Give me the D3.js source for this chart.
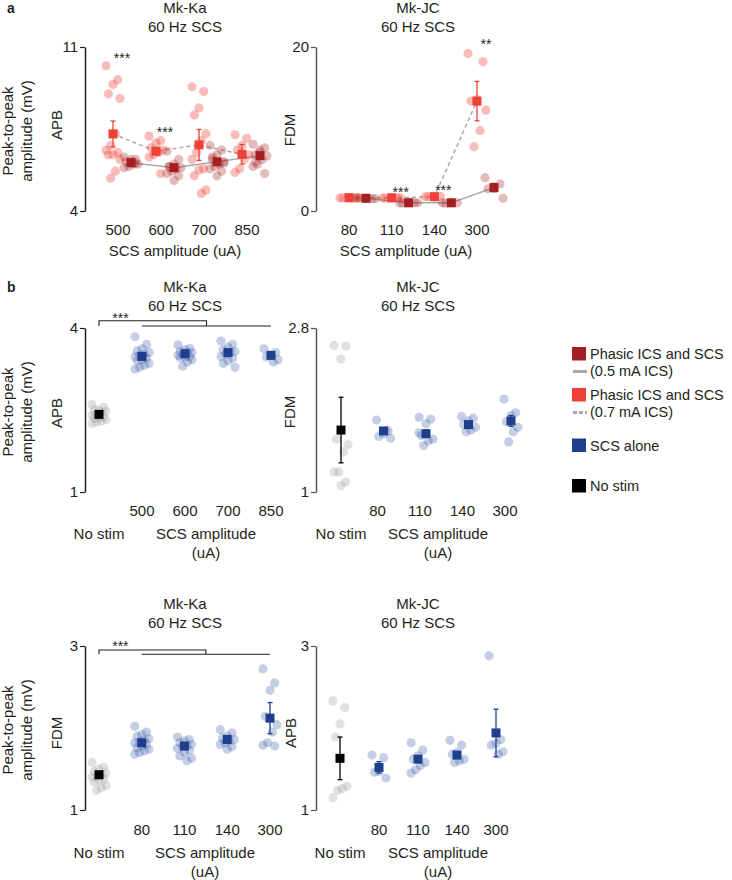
<!DOCTYPE html>
<html lang="en">
<head>
<meta charset="UTF-8">
<title>SCS amplitude</title>
<script src="https://cdn.jsdelivr.net/npm/d3@7"></script>
<style>
  body { margin: 0; background: #fff; }
  text { font-family: "Liberation Sans", Arial, sans-serif; fill: #231f20; }
</style>
</head>
<body>
<svg id="chart" width="732" height="880"></svg>
<script>
// ---- data ----
var kaAmps = ["500", "600", "700", "850"];
var jcAmps = ["80", "110", "140", "300"];

// panel a, Mk-Ka APB, 0.7 mA ICS (light red)
var aKaHighPts = [
  [10.2, 9.6, 9.4, 9.0, 8.8, 7.3, 6.8, 6.6, 6.5, 6.4, 6.4, 6.2, 5.7, 5.4],
  [7.2, 7.0, 6.9, 6.7, 6.6, 6.5, 6.4, 6.3, 5.6],
  [9.3, 9.1, 8.4, 8.1, 7.3, 7.0, 6.5, 6.2, 5.8, 5.75, 5.5, 4.9, 4.75],
  [7.25, 7.1, 6.8, 6.6, 6.4, 6.2, 5.8, 5.65]
];
var aKaHighMean = [7.29, 6.55, 6.82, 6.42];
var aKaHighSem = [0.55, 0.12, 0.66, 0.42];
// panel a, Mk-Ka APB, 0.5 mA ICS (dark red)
var aKaLowPts = [
  [6.3, 6.2, 6.1, 6.1, 6.0, 6.0, 5.9, 5.85, 6.05, 6.2],
  [6.55, 6.2, 6.0, 5.9, 5.85, 5.8, 5.7, 5.6, 5.5, 5.3, 5.9],
  [6.8, 6.6, 6.4, 6.2, 6.1, 6.0, 5.9, 5.8, 5.7, 5.5, 6.3, 6.05],
  [6.85, 6.7, 6.5, 6.4, 6.35, 6.2, 6.0, 5.9, 5.6, 6.6, 6.1]
];
var aKaLowMean = [6.06, 5.85, 6.1, 6.36];
var aKaLowSem = [0.05, 0.08, 0.1, 0.1];
var aKaStars = [["500", 10.3, "***"], ["600", 7.16, "***"]];

// panel a, Mk-JC FDM
var aJcHighPts = [
  [1.6, 1.6, 1.65, 1.6, 1.62, 1.58],
  [1.6, 1.6, 1.62, 1.58, 1.6],
  [1.75, 1.8, 1.7, 1.75],
  [19.2, 18.2, 13.6, 13.4, 12.3, 9.8, 7.85]
];
var aJcHighMean = [1.62, 1.6, 1.75, 13.4];
var aJcHighSem = [0.05, 0.05, 0.05, 2.4];
var aJcLowPts = [
  [1.55, 1.5, 1.55, 1.6, 1.5],
  [1.0, 1.0, 1.05, 0.95, 1.0],
  [1.0, 1.0, 1.05, 0.95],
  [4.06, 3.3, 2.9, 2.7, 1.55]
];
var aJcLowMean = [1.55, 1.0, 1.0, 2.85];
var aJcLowSem = [0.05, 0.05, 0.05, 0.5];
var aJcStars = [["110", 1.65, "***"], ["140", 2.0, "***"], ["300", 19.7, "**"]];

// panel b, Mk-Ka APB
var bKaApbNoStim = [2.6, 2.55, 2.5, 2.5, 2.48, 2.45, 2.42, 2.4, 2.38, 2.36, 2.35, 2.32, 2.3, 2.28, 2.25];
var bKaApbPts = [
  [3.84, 3.7, 3.62, 3.58, 3.55, 3.52, 3.5, 3.47, 3.45, 3.42, 3.4, 3.35, 3.32, 3.28, 3.25],
  [3.69, 3.63, 3.6, 3.57, 3.55, 3.55, 3.52, 3.5, 3.48, 3.47, 3.45, 3.42, 3.38, 3.3],
  [3.76, 3.7, 3.65, 3.6, 3.57, 3.55, 3.52, 3.48, 3.45, 3.4, 3.35, 3.28],
  [3.62, 3.55, 3.5, 3.47, 3.42, 3.38]
];
var bKaApbMean = [3.48, 3.53, 3.55, 3.5];
var bKaApbNoStimMean = 2.42;

// panel b, Mk-JC FDM
var bJcFdmNoStim = [2.61, 2.6, 2.46, 1.58, 1.52, 1.44, 1.22, 1.22, 1.11, 1.07];
var bJcFdmPts = [
  [1.79, 1.67, 1.64, 1.61, 1.59, 1.67],
  [1.82, 1.8, 1.75, 1.62, 1.58, 1.56, 1.51, 1.65],
  [1.83, 1.81, 1.78, 1.74, 1.71, 1.68, 1.66],
  [2.02, 1.87, 1.84, 1.77, 1.71, 1.66, 1.55]
];
var bJcFdmMean = [1.67, 1.64, 1.74, 1.78];
var bJcFdmSem = [0.03, 0.04, 0.03, 0.06];
var bJcFdmNoStimMean = 1.68;
var bJcFdmNoStimSem = 0.36;

// panel b, Mk-Ka FDM
var bKaFdmNoStim = [1.58, 1.52, 1.5, 1.47, 1.45, 1.43, 1.41, 1.4, 1.38, 1.36, 1.34, 1.3, 1.27, 1.24];
var bKaFdmPts = [
  [2.02, 1.95, 1.92, 1.9, 1.87, 1.85, 1.83, 1.82, 1.8, 1.78, 1.76, 1.74, 1.72, 1.7, 1.68],
  [1.89, 1.86, 1.84, 1.82, 1.8, 1.78, 1.77, 1.75, 1.73, 1.7, 1.66, 1.63, 1.6],
  [1.98, 1.94, 1.9, 1.88, 1.86, 1.84, 1.82, 1.8, 1.77, 1.74],
  [2.72, 2.55, 2.46, 2.14, 2.04, 1.95, 1.82, 1.79, 1.78]
];
var bKaFdmMean = [1.82, 1.78, 1.86, 2.12];
var bKaFdmSem = [0.02, 0.02, 0.02, 0.19];
var bKaFdmNoStimMean = 1.43;

// panel b, Mk-JC APB
var bJcApbNoStim = [2.33, 2.25, 2.05, 1.89, 1.29, 1.26, 1.24, 1.15];
var bJcApbPts = [
  [1.67, 1.64, 1.47, 1.46, 1.39],
  [1.82, 1.73, 1.66, 1.62, 1.58, 1.54, 1.49, 1.45],
  [1.85, 1.79, 1.7, 1.68, 1.62, 1.6, 1.58],
  [2.88, 1.86, 1.81, 1.79, 1.71, 1.68]
];
var bJcApbMean = [1.52, 1.62, 1.67, 1.94];
var bJcApbSem = [0.07, 0.04, 0.03, 0.29];
var bJcApbNoStimMean = 1.63;
var bJcApbNoStimSem = 0.26;

var legendLabels = [["Phasic ICS and SCS", "(0.5 mA ICS)"], ["Phasic ICS and SCS", "(0.7 mA ICS)"], ["SCS alone"], ["No stim"]];

// ---- colours ----
var darkRed = "#a41e22", lightRed = "#ee4036", blue = "#1f3f8e", black = "#000";

var svg = d3.select("#chart");

function jit(i, spread) {
  return (((i * 5) % 7) - 3) * spread / 3;
}

function drawSeries(g, x, y, s) {
  s.cats.forEach(function (c, ci) {
    var cx = x(c) + (s.offset || 0);
    g.selectAll(null).data(s.pts[ci]).enter().append("circle")
      .attr("cx", function (d, i) { return cx + jit(i, s.spread); })
      .attr("cy", function (d) { return y(d); })
      .attr("r", 4.6)
      .attr("fill", s.ptColor)
      .attr("fill-opacity", s.ptOpacity);
  });
}

function drawMeans(g, x, y, s) {
  s.cats.forEach(function (c, ci) {
    var cx = x(c) + (s.offset || 0);
    var m = s.mean[ci], e = s.sem ? s.sem[ci] : 0;
    if (e > 0) {
      g.append("line").attr("x1", cx).attr("x2", cx)
        .attr("y1", y(m - e)).attr("y2", y(m + e))
        .attr("stroke", s.color).attr("stroke-width", 1.3);
      [m - e, m + e].forEach(function (v) {
        g.append("line").attr("x1", cx - 2.5).attr("x2", cx + 2.5)
          .attr("y1", y(v)).attr("y2", y(v))
          .attr("stroke", s.color).attr("stroke-width", 1.3);
      });
    }
    g.append("rect").attr("x", cx - 4.5).attr("y", y(m) - 4.5)
      .attr("width", 9).attr("height", 9).attr("fill", s.color);
  });
}

function drawPanel(p) {
  var g = svg.append("g");
  var y = d3.scaleLinear().domain(p.yDomain).range([p.bottom, p.top]);
  var x = d3.scalePoint().domain(p.domain).range(p.xRange);

  var ax = g.append("g").attr("transform", "translate(" + p.axisX + ",0)")
    .call(d3.axisLeft(y).tickValues(p.yDomain).tickSize(5).tickSizeOuter(0).tickPadding(2)
      .tickFormat(function (d) { return d; }));
  ax.select(".domain").attr("stroke", p.axisColor).attr("stroke-width", 1.5);
  ax.selectAll(".tick line").attr("stroke", p.axisColor).attr("stroke-width", 1.2);
  ax.selectAll(".tick text").attr("font-size", 15).attr("fill", "#231f20")
    .attr("font-family", "Liberation Sans, Arial, sans-serif");

  // titles
  g.append("text").attr("x", p.titleX).attr("y", p.titleY).attr("text-anchor", "middle")
    .attr("font-size", 15).text(p.monkey);
  g.append("text").attr("x", p.titleX).attr("y", p.titleY + 19).attr("text-anchor", "middle")
    .attr("font-size", 15).text("60 Hz SCS");

  // muscle label
  g.append("text").attr("transform", "translate(" + p.muscleX + "," + p.labelMidY + ") rotate(-90)")
    .attr("text-anchor", "middle").attr("font-size", 15).text(p.muscle);

  // connecting lines between means
  (p.lines || []).forEach(function (s) {
    var line = d3.line()
      .x(function (d, i) { return x(s.cats[i]) + s.offset; })
      .y(function (d) { return y(d); });
    g.append("path").attr("d", line(s.mean)).attr("fill", "none")
      .attr("stroke", "#a7a9ac").attr("stroke-width", 1.5)
      .attr("stroke-dasharray", s.dash ? "4,3" : null);
  });

  p.series.forEach(function (s) { drawSeries(g, x, y, s); });
  p.series.forEach(function (s) { drawMeans(g, x, y, s); });

  // x tick labels
  g.selectAll(null).data(p.ticks).enter().append("text")
    .attr("x", function (d) { return x(d) + (p.labelShift || 0); })
    .attr("y", p.tickY).attr("text-anchor", "middle").attr("font-size", 15)
    .text(function (d) { return d; });

  if (p.noStim) {
    g.append("text").attr("x", x("No stim")).attr("y", p.tickY + 23)
      .attr("text-anchor", "middle").attr("font-size", 15).text("No stim");
    g.append("text").attr("x", p.xlabelX).attr("y", p.tickY + 23)
      .attr("text-anchor", "middle").attr("font-size", 15).text("SCS amplitude");
    g.append("text").attr("x", p.xlabelX).attr("y", p.tickY + 42)
      .attr("text-anchor", "middle").attr("font-size", 15).text("(uA)");
  } else {
    g.append("text").attr("x", p.xlabelX).attr("y", p.tickY + 21)
      .attr("text-anchor", "middle").attr("font-size", 15).text("SCS amplitude (uA)");
  }

  // significance
  (p.stars || []).forEach(function (st) {
    g.append("text").attr("x", x(st[0])).attr("y", y(st[1]))
      .attr("text-anchor", "middle").attr("font-size", 14).text(st[2]);
  });

  if (p.bracket) {
    var b = p.bracket, c = p.ticks;
    var x0 = x("No stim"), xm = (x(c[1]) + x(c[2])) / 2;
    g.append("path")
      .attr("d", "M" + x0 + "," + y(b[1]) + "V" + y(b[0]) + "H" + xm + "V" + y(b[1]) +
        "M" + x(c[0]) + "," + y(b[1]) + "H" + x(c[c.length - 1]))
      .attr("fill", "none").attr("stroke", "#231f20").attr("stroke-width", 1.1);
    g.append("text").attr("x", (x0 + x(c[0])) / 2).attr("y", y(b[2]))
      .attr("text-anchor", "middle").attr("font-size", 14).text("***");
  }
}

function ylabel(midY) {
  svg.append("text").attr("transform", "translate(13," + midY + ") rotate(-90)")
    .attr("text-anchor", "middle").attr("font-size", 15).text("Peak-to-peak");
  svg.append("text").attr("transform", "translate(32," + midY + ") rotate(-90)")
    .attr("text-anchor", "middle").attr("font-size", 15).text("amplitude (mV)");
}

// ---- panel a ----
svg.append("text").attr("x", 7).attr("y", 13).attr("font-size", 14).attr("font-weight", "bold").text("a");
ylabel(131);
drawPanel({
  monkey: "Mk-Ka", muscle: "APB", yDomain: [4, 11], top: 47, bottom: 211,
  domain: kaAmps, ticks: kaAmps, xRange: [122, 251], axisX: 85, axisColor: "#231f20",
  titleX: 185, titleY: 13, muscleX: 62, labelMidY: 125, tickY: 235, labelShift: -4, xlabelX: 175,
  lines: [
    { cats: kaAmps, mean: aKaHighMean, offset: -9, dash: true },
    { cats: kaAmps, mean: aKaLowMean, offset: 9, dash: false }
  ],
  series: [
    { cats: kaAmps, pts: aKaHighPts, mean: aKaHighMean, sem: aKaHighSem, color: lightRed, ptColor: lightRed, ptOpacity: 0.35, offset: -9, spread: 7 },
    { cats: kaAmps, pts: aKaLowPts, mean: aKaLowMean, sem: aKaLowSem, color: darkRed, ptColor: darkRed, ptOpacity: 0.3, offset: 9, spread: 7 }
  ],
  stars: aKaStars
});
drawPanel({
  monkey: "Mk-JC", muscle: "FDM", yDomain: [0, 20], top: 47, bottom: 211,
  domain: jcAmps, ticks: jcAmps, xRange: [358, 486], axisX: 316, axisColor: "#555",
  titleX: 418, titleY: 13, muscleX: 295, labelMidY: 130, tickY: 235, labelShift: -9, xlabelX: 406,
  lines: [
    { cats: jcAmps, mean: aJcHighMean, offset: -9, dash: true },
    { cats: jcAmps, mean: aJcLowMean, offset: 8, dash: false }
  ],
  series: [
    { cats: jcAmps, pts: aJcHighPts, mean: aJcHighMean, sem: aJcHighSem, color: lightRed, ptColor: lightRed, ptOpacity: 0.35, offset: -9, spread: 9 },
    { cats: jcAmps, pts: aJcLowPts, mean: aJcLowMean, sem: aJcLowSem, color: darkRed, ptColor: darkRed, ptOpacity: 0.3, offset: 8, spread: 9 }
  ],
  stars: aJcStars
});

// ---- panel b ----
svg.append("text").attr("x", 7).attr("y", 292).attr("font-size", 14).attr("font-weight", "bold").text("b");
ylabel(412);
ylabel(730);

function bSeries(cats, noStimPts, noStimMean, noStimSem, pts, mean, sem) {
  return [
    { cats: ["No stim"], pts: [noStimPts], mean: [noStimMean], sem: [noStimSem || 0], color: black, ptColor: "#9a9a9a", ptOpacity: 0.3, offset: 0, spread: 7 },
    { cats: cats, pts: pts, mean: mean, sem: sem, color: blue, ptColor: "#3b5ca8", ptOpacity: 0.3, offset: 0, spread: 7 }
  ];
}

drawPanel({
  monkey: "Mk-Ka", muscle: "APB", yDomain: [1, 4], top: 328, bottom: 492, noStim: true,
  domain: ["No stim"].concat(kaAmps), ticks: kaAmps, xRange: [99, 271], axisX: 85, axisColor: "#231f20",
  titleX: 185, titleY: 292, muscleX: 62, labelMidY: 413, tickY: 516, xlabelX: 206,
  series: bSeries(kaAmps, bKaApbNoStim, bKaApbNoStimMean, 0, bKaApbPts, bKaApbMean, null),
  bracket: [4.133, 4.036, 4.09]
});
drawPanel({
  monkey: "Mk-JC", muscle: "FDM", yDomain: [1, 2.8], top: 328, bottom: 492, noStim: true,
  domain: ["No stim"].concat(jcAmps), ticks: jcAmps, xRange: [341, 511], axisX: 316, axisColor: "#555",
  titleX: 418, titleY: 292, muscleX: 295, labelMidY: 412, tickY: 516, labelShift: -6, xlabelX: 438,
  series: bSeries(jcAmps, bJcFdmNoStim, bJcFdmNoStimMean, bJcFdmNoStimSem, bJcFdmPts, bJcFdmMean, bJcFdmSem)
});
drawPanel({
  monkey: "Mk-Ka", muscle: "FDM", yDomain: [1, 3], top: 646, bottom: 810, noStim: true,
  domain: ["No stim"].concat(jcAmps), ticks: jcAmps, xRange: [99, 270], axisX: 85, axisColor: "#231f20",
  titleX: 185, titleY: 609, muscleX: 62, labelMidY: 733, tickY: 835, xlabelX: 205,
  series: bSeries(jcAmps, bKaFdmNoStim, bKaFdmNoStimMean, 0, bKaFdmPts, bKaFdmMean, bKaFdmSem),
  bracket: [2.951, 2.899, 2.933]
});
drawPanel({
  monkey: "Mk-JC", muscle: "APB", yDomain: [1, 3], top: 646, bottom: 810, noStim: true,
  domain: ["No stim"].concat(jcAmps), ticks: jcAmps, xRange: [340, 496], axisX: 316, axisColor: "#555",
  titleX: 418, titleY: 609, muscleX: 296, labelMidY: 733, tickY: 835, xlabelX: 438,
  series: bSeries(jcAmps, bJcApbNoStim, bJcApbNoStimMean, bJcApbNoStimSem, bJcApbPts, bJcApbMean, bJcApbSem)
});

// ---- legend ----
var legendColors = [darkRed, lightRed, blue, black];
var legendTop = [347, 388, 438.5, 479];
var leg = svg.append("g");
legendColors.forEach(function (c, i) {
  leg.append("rect").attr("x", 572).attr("y", legendTop[i]).attr("width", 14).attr("height", 13.5).attr("fill", c);
  leg.append("text").attr("x", 590).attr("y", legendTop[i] + 12).attr("font-size", 14.5).text(legendLabels[i][0]);
  if (legendLabels[i][1]) {
    leg.append("text").attr("x", 590).attr("y", legendTop[i] + 28.5).attr("font-size", 14.5).text(legendLabels[i][1]);
    leg.append("line").attr("x1", 573).attr("x2", 587)
      .attr("y1", legendTop[i] + 24.5).attr("y2", legendTop[i] + 24.5)
      .attr("stroke", "#a7a9ac").attr("stroke-width", 3)
      .attr("stroke-dasharray", i === 1 ? "4,2" : null);
  }
});
</script>
</body>
</html>
